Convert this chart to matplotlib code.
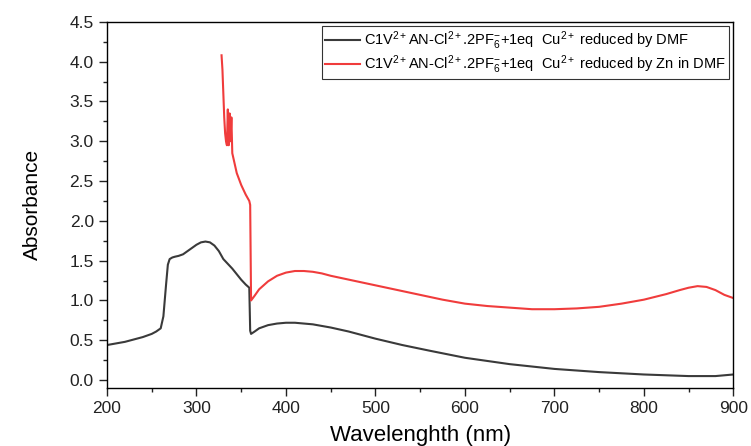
import matplotlib.pyplot as plt
from matplotlib.ticker import MultipleLocator

plt.rcParams['font.family'] = ['Liberation Sans', 'DejaVu Sans']
plt.rcParams['mathtext.fontset'] = 'custom'
plt.rcParams['mathtext.rm'] = 'Liberation Sans'
plt.rcParams['mathtext.it'] = 'Liberation Sans'

# black curve: reduced by DMF
wl_dmf = [200, 210, 220, 230, 240, 250, 255, 260, 263, 266, 268, 270, 273, 276, 280,
          285, 290, 295, 300, 305, 310, 315, 320, 325, 330, 335, 340, 345, 350, 355,
          359, 360, 361, 365, 370, 380, 390, 400, 410, 420, 430, 440, 450, 470, 500,
          530, 560, 600, 650, 700, 750, 800, 850, 880, 900]
abs_dmf = [0.44, 0.46, 0.48, 0.51, 0.54, 0.58, 0.61, 0.65, 0.80, 1.20, 1.45, 1.52, 1.54,
           1.55, 1.56, 1.58, 1.62, 1.66, 1.70, 1.73, 1.74, 1.73, 1.69, 1.62, 1.52, 1.46,
           1.40, 1.33, 1.26, 1.20, 1.16, 0.62, 0.58, 0.61, 0.65, 0.69, 0.71, 0.72, 0.72,
           0.71, 0.70, 0.68, 0.66, 0.61, 0.52, 0.44, 0.37, 0.28, 0.20, 0.14, 0.10, 0.07,
           0.05, 0.05, 0.07]

# red curve: reduced by Zn in DMF
wl_zn = [328, 329, 330, 331, 332, 333, 334, 335, 336, 337, 338, 339, 340, 342, 345, 350,
         355, 359, 360, 361, 365, 370, 380, 390, 400, 410, 420, 430, 440, 450, 475, 500,
         525, 550, 575, 600, 625, 650, 675, 700, 725, 750, 775, 800, 825, 840, 850, 860,
         870, 880, 890, 900]
abs_zn = [4.08, 3.90, 3.60, 3.30, 3.10, 3.00, 2.95, 3.40, 2.95, 3.35, 3.00, 3.30, 2.85,
          2.75, 2.60, 2.45, 2.33, 2.25, 2.20, 1.00, 1.06, 1.14, 1.24, 1.31, 1.35, 1.37,
          1.37, 1.36, 1.34, 1.31, 1.25, 1.19, 1.13, 1.07, 1.01, 0.96, 0.93, 0.91, 0.89,
          0.89, 0.90, 0.92, 0.96, 1.01, 1.08, 1.13, 1.16, 1.18, 1.17, 1.13, 1.07, 1.03]

lbl_dmf = r'C1V$^{2+}$AN-Cl$^{2+}$.2PF$_6^{-}$+1eq  Cu$^{2+}$ reduced by DMF'
lbl_zn = r'C1V$^{2+}$AN-Cl$^{2+}$.2PF$_6^{-}$+1eq  Cu$^{2+}$ reduced by Zn in DMF'

fig = plt.figure(figsize=(7.51, 4.46), dpi=100)
ax = fig.add_axes([0.1425, 0.130, 0.834, 0.821])

ax.plot(wl_dmf, abs_dmf, color='#3a3a3a', lw=1.5, label=lbl_dmf)
ax.plot(wl_zn, abs_zn, color='#f03c3c', lw=1.5, label=lbl_zn)

ax.set_xlim(200, 900)
ax.set_ylim(-0.1, 4.5)
ax.xaxis.set_major_locator(MultipleLocator(100))
ax.xaxis.set_minor_locator(MultipleLocator(50))
ax.yaxis.set_major_locator(MultipleLocator(0.5))
ax.yaxis.set_minor_locator(MultipleLocator(0.25))
ax.yaxis.set_major_formatter(plt.FormatStrFormatter('%.1f'))
ax.tick_params(which='both', direction='out', labelsize=12.5, colors='#222222')
ax.tick_params(which='major', length=6, width=1)
ax.tick_params(which='minor', length=3, width=1)
for s in ax.spines.values():
    s.set_linewidth(1)

ax.set_xlabel('Wavelenghth (nm)', fontsize=16, labelpad=6)
ax.set_ylabel('Absorbance', fontsize=15, labelpad=20)

leg = ax.legend(loc='upper right', fontsize=10.5, frameon=True, fancybox=False,
                edgecolor='black', borderaxespad=0.3, handlelength=2.4,
                handletextpad=0.3, borderpad=0.2, labelspacing=0.1)
leg.get_frame().set_linewidth(0.8)

fig.savefig('out.png', dpi=100)
